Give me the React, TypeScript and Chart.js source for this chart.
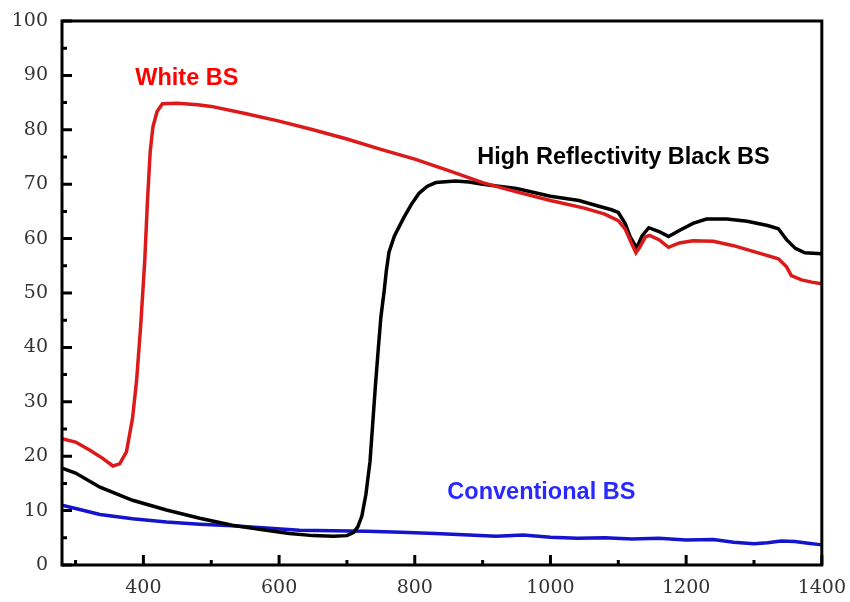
import React, { useEffect, useRef } from "react";
import { Chart, registerables } from "chart.js";

Chart.register(...registerables);

const whitePts: [number, number][] = [
  [280, 23.2], [300, 22.6], [320, 21.2], [340, 19.6], [355, 18.2], [365, 18.6], [375, 20.8], [384, 27], [390, 34], [396, 44], [402, 56], [406, 67], [410, 76], [414, 80.5], [420, 83.3], [428, 84.8], [450, 84.9], [480, 84.6], [500, 84.3], [550, 83], [600, 81.6], [650, 80], [700, 78.3], [750, 76.4], [800, 74.6], [850, 72.5], [900, 70.3], [950, 68.6], [1000, 67], [1050, 65.6], [1080, 64.5], [1100, 63.3], [1110, 61.8], [1120, 59], [1126, 57.4], [1132, 58.5], [1140, 60.3], [1146, 60.6], [1160, 59.8], [1174, 58.4], [1190, 59.2], [1210, 59.6], [1240, 59.5], [1270, 58.7], [1300, 57.6], [1336, 56.3], [1348, 54.8], [1355, 53.2], [1370, 52.4], [1385, 52], [1400, 51.7],
];

const blackPts: [number, number][] = [
  [280, 17.8], [300, 16.9], [336, 14.3], [384, 11.9], [434, 10.1], [483, 8.6], [531, 7.3], [581, 6.4], [615, 5.8], [650, 5.4], [680, 5.3], [700, 5.4], [710, 6], [716, 7], [722, 9], [728, 13], [734, 19], [738, 26], [742, 33], [746, 39.4], [750, 45.5], [755, 50.5], [758, 54], [762, 57.5], [770, 60.5], [784, 63.9], [795, 66.3], [806, 68.3], [818, 69.6], [831, 70.3], [860, 70.6], [880, 70.4], [900, 70], [950, 69.2], [1000, 67.8], [1042, 67], [1070, 66], [1090, 65.3], [1100, 64.8], [1110, 62.8], [1118, 60.2], [1127, 58.3], [1135, 60.5], [1145, 62], [1160, 61.3], [1174, 60.4], [1190, 61.5], [1210, 62.8], [1230, 63.6], [1260, 63.6], [1290, 63.2], [1320, 62.4], [1336, 61.8], [1348, 59.8], [1361, 58.2], [1375, 57.4], [1400, 57.2],
];

const bluePts: [number, number][] = [
  [280, 11], [300, 10.4], [336, 9.3], [384, 8.5], [434, 7.9], [483, 7.5], [531, 7.2], [581, 6.8], [630, 6.4], [680, 6.3], [730, 6.2], [780, 6], [830, 5.8], [880, 5.5], [920, 5.3], [960, 5.5], [1000, 5.1], [1040, 4.9], [1080, 5], [1120, 4.8], [1160, 4.9], [1200, 4.6], [1240, 4.7], [1270, 4.2], [1300, 3.9], [1320, 4.1], [1340, 4.4], [1360, 4.3], [1380, 4], [1400, 3.7],
];

const xMajorTicks = [400, 600, 800, 1000, 1200, 1400];
const xMinorTicks = [300, 500, 700, 900, 1100, 1300];
const yMajorTicks = [0, 10, 20, 30, 40, 50, 60, 70, 80, 90, 100];
const yMinorTicks = [5, 15, 25, 35, 45, 55, 65, 75, 85, 95];

const seriesLabels = [
  { text: "White BS", x: 388, y: 89.4, color: "#ff0000" },
  { text: "High Reflectivity Black BS", x: 892, y: 74.9, color: "#000000" },
  { text: "Conventional BS", x: 848, y: 13.4, color: "#2828ff" },
];

const toXY = (pts: [number, number][]) => pts.map(([x, y]) => ({ x, y }));

const framePlugin = {
  id: "frame",
  afterDatasetsDraw(chart: any) {
    const { ctx, chartArea, scales } = chart;
    const xs = scales.x;
    const ys = scales.y;
    ctx.save();
    ctx.strokeStyle = "#000";
    ctx.lineWidth = 3;
    ctx.strokeRect(chartArea.left, chartArea.top, chartArea.right - chartArea.left, chartArea.bottom - chartArea.top);
    ctx.beginPath();
    yMajorTicks.forEach((v) => {
      const p = ys.getPixelForValue(v);
      ctx.moveTo(chartArea.left, p);
      ctx.lineTo(chartArea.left + 10, p);
    });
    yMinorTicks.forEach((v) => {
      const p = ys.getPixelForValue(v);
      ctx.moveTo(chartArea.left, p);
      ctx.lineTo(chartArea.left + 5, p);
    });
    xMajorTicks.forEach((v) => {
      const p = xs.getPixelForValue(v);
      ctx.moveTo(p, chartArea.bottom);
      ctx.lineTo(p, chartArea.bottom - 10);
    });
    xMinorTicks.forEach((v) => {
      const p = xs.getPixelForValue(v);
      ctx.moveTo(p, chartArea.bottom);
      ctx.lineTo(p, chartArea.bottom - 5);
    });
    ctx.stroke();

    ctx.font = "bold 23.5px 'Liberation Sans', Arial, sans-serif";
    ctx.textAlign = "left";
    ctx.textBaseline = "middle";
    seriesLabels.forEach((l) => {
      ctx.fillStyle = l.color;
      ctx.fillText(l.text, xs.getPixelForValue(l.x), ys.getPixelForValue(l.y));
    });
    ctx.restore();
  },
};

export default function App() {
  const ref = useRef<HTMLCanvasElement | null>(null);
  useEffect(() => {
    document.body.style.margin = "0";
    const tickFont = { family: "'DejaVu Serif', serif", size: 19 };
    const chart = new Chart(ref.current!, {
      type: "line",
      data: {
        datasets: [
          { label: "White BS", data: toXY(whitePts), borderColor: "#dd1a1a", borderWidth: 3.5 },
          { label: "High Reflectivity Black BS", data: toXY(blackPts), borderColor: "#000000", borderWidth: 3.5 },
          { label: "Conventional BS", data: toXY(bluePts), borderColor: "#1414cc", borderWidth: 3.5 },
        ],
      },
      options: {
        animation: false,
        responsive: false,
        elements: { point: { radius: 0 }, line: { tension: 0 } },
        layout: { padding: { top: 21, right: 27, left: 0, bottom: 0 } },
        plugins: { legend: { display: false }, tooltip: { enabled: false } },
        scales: {
          x: {
            type: "linear",
            min: 280,
            max: 1400,
            grid: { display: false },
            border: { display: false },
            afterBuildTicks: (s: any) => {
              s.ticks = xMajorTicks.map((v) => ({ value: v }));
            },
            afterFit: (s: any) => {
              s.height = 37;
            },
            ticks: { font: tickFont, color: "#333", padding: 4, maxRotation: 0, callback: (v: any) => String(v) },
          },
          y: {
            min: 0,
            max: 100,
            grid: { display: false },
            border: { display: false },
            afterBuildTicks: (s: any) => {
              s.ticks = yMajorTicks.map((v) => ({ value: v }));
            },
            afterFit: (s: any) => {
              s.width = 62;
            },
            ticks: { font: tickFont, color: "#333", padding: 6, callback: (v: any) => String(v) },
          },
        },
      },
      plugins: [framePlugin],
    } as any);
    return () => chart.destroy();
  }, []);
  return (
    <div style={{ width: 850, height: 602 }}>
      <canvas ref={ref} width={850} height={602} />
    </div>
  );
}
